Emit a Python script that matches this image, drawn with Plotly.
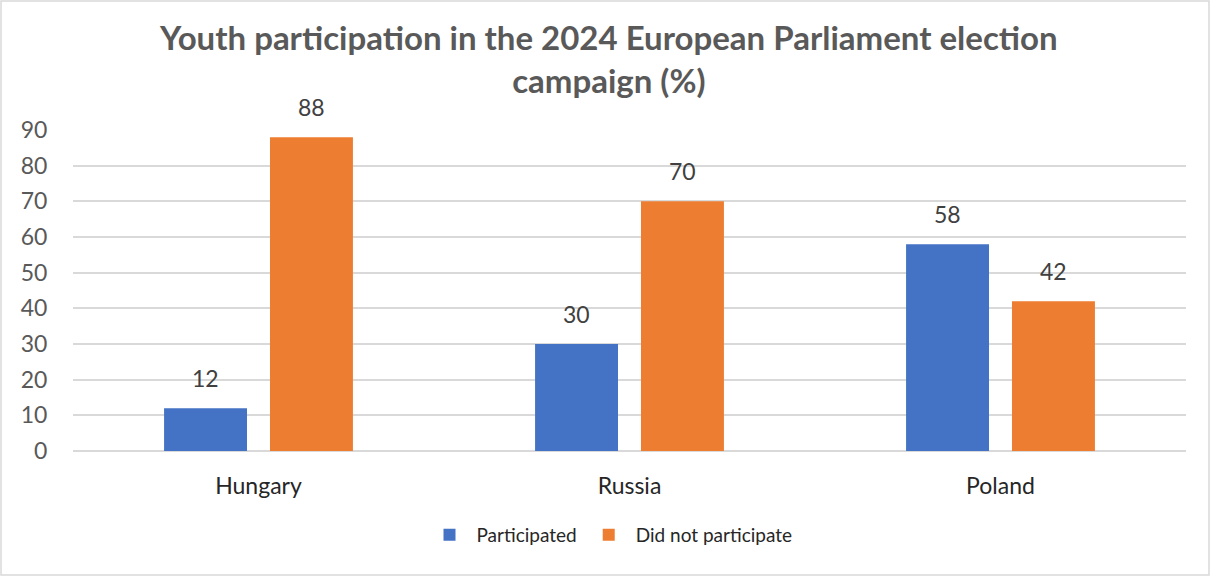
import plotly.graph_objects as go

# Survey results by country
countries = ["Hungary", "Russia", "Poland"]
participated = [12, 30, 58]
did_not_participate = [88, 70, 42]
series_names = ["Participated", "Did not participate"]
y_ticks = [0, 10, 20, 30, 40, 50, 60, 70, 80, 90]
title_text = "Youth participation in the 2024 European Parliament election<br>campaign (%)"

BLUE = "#4472C4"
ORANGE = "#ED7D31"
W, H = 1212, 577
ML, MR, MT, MB = 73, 26, 130, 126
pw, ph = W - ML - MR, H - MT - MB


def px_x(px):
    return (px - ML) / pw


def px_y(py):
    return (H - MB - py) / ph


fig = go.Figure()
fig.add_trace(go.Bar(name=series_names[0], x=countries, y=participated,
                     marker=dict(color=BLUE, line=dict(width=0))))
fig.add_trace(go.Bar(name=series_names[1], x=countries, y=did_not_participate,
                     marker=dict(color=ORANGE, line=dict(width=0))))

# value labels above each bar
offset = 53
for vals, shift in ((participated, -offset), (did_not_participate, offset)):
    for c, v in zip(countries, vals):
        fig.add_annotation(x=c, y=v, text=str(v), showarrow=False,
                           xshift=shift, yshift=14, yanchor="bottom",
                           font=dict(family="Lato", size=23, color="#404040"))

# chart title
fig.add_annotation(xref="paper", yref="paper", x=px_x(608), y=px_y(15),
                   xanchor="center", yanchor="top", showarrow=False,
                   text=title_text, align="center",
                   font=dict(family="Lato", size=33, color="#595959", weight="bold"))

# outer border of the chart area
fig.add_shape(type="rect", xref="paper", yref="paper",
              x0=px_x(1), x1=px_x(W - 3), y0=px_y(H - 2), y1=px_y(1),
              line=dict(color="#D9D9D9", width=1.5), fillcolor="rgba(0,0,0,0)")

fig.update_layout(
    width=W, height=H,
    margin=dict(l=ML, r=MR, t=MT, b=MB),
    paper_bgcolor="white", plot_bgcolor="white",
    barmode="group", bargap=0.429, bargroupgap=0.217,
    font=dict(family="Lato"),
    showlegend=True,
    legend=dict(orientation="h", x=px_x(610), xanchor="center", y=px_y(535), yanchor="middle",
                font=dict(family="Lato", size=19, color="#262626"),
                itemwidth=44, traceorder="normal"),
)
fig.update_xaxes(showgrid=False, showline=False, zeroline=False,
                 ticks="outside", ticklen=14, tickcolor="rgba(0,0,0,0)",
                 tickfont=dict(family="Lato", size=23, color="#262626"))
fig.update_yaxes(range=[0, 90], tickvals=y_ticks, showgrid=True,
                 gridcolor="#D9D9D9", gridwidth=1.5, zeroline=True,
                 zerolinecolor="#D9D9D9", zerolinewidth=1.5,
                 ticks="outside", ticklen=20, tickcolor="rgba(0,0,0,0)",
                 tickfont=dict(family="Lato", size=23, color="#595959"))

fig.write_html("out.html")
